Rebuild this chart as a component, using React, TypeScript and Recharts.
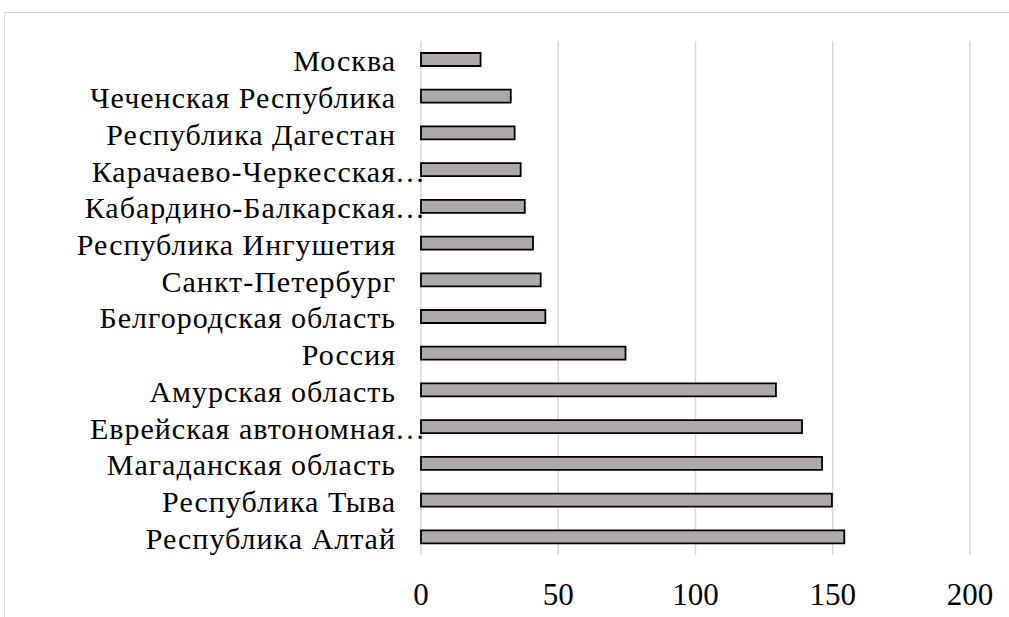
import React from "react"
import { BarChart, Bar, XAxis, YAxis, CartesianGrid } from "recharts"

const categories = [
  "Москва",
  "Чеченская Республика",
  "Республика Дагестан",
  "Карачаево-Черкесская…",
  "Кабардино-Балкарская…",
  "Республика Ингушетия",
  "Санкт-Петербург",
  "Белгородская область",
  "Россия",
  "Амурская область",
  "Еврейская автономная…",
  "Магаданская область",
  "Республика Тыва",
  "Республика Алтай",
]

const values = [21.7, 32.7, 34.1, 36.3, 37.8, 40.8, 43.6, 45.3, 74.5, 129.3, 138.8, 146.1, 149.7, 154.2]

const xTicks = [0, 50, 100, 150, 200]

const data = categories.map((name, i) => ({ name, value: values[i] }))

const FONT = '"Liberation Serif", "Times New Roman", serif'

function CategoryTick({ x, y, payload }: any) {
  const label: string = payload.value
  const cut = label.endsWith("…")
  const base = cut ? label.slice(0, -1) : label
  const right = x - 17
  return (
    <g>
      <text
        x={right}
        y={y}
        dy={12}
        textAnchor="end"
        fontFamily={FONT}
        fontSize={30}
        letterSpacing={1}
        fill="#000"
      >
        {base}
      </text>
      {cut && (
        <text x={right - 1} y={y} dy={12} textAnchor="start" fontFamily={FONT} fontSize={30} fill="#000">
          …
        </text>
      )}
    </g>
  )
}

function ValueTick({ x, y, payload }: any) {
  return (
    <text x={x} y={y} dy={42} textAnchor="middle" fontFamily={FONT} fontSize={31} fill="#000">
      {payload.value}
    </text>
  )
}

export default function App() {
  return (
    <div
      style={{
        position: "fixed",
        left: 0,
        top: 0,
        width: 1009,
        height: 617,
        overflow: "hidden",
        background: "#fff",
      }}
    >
      <div
        style={{
          position: "absolute",
          left: 4,
          top: 12,
          width: 1100,
          height: 700,
          border: "1.5px solid #d9d9d9",
        }}
      />
      <div style={{ position: "absolute", left: 0, top: 0 }}>
        <BarChart
          width={1009}
          height={617}
          data={data}
          layout="vertical"
          margin={{ top: 41, right: 39, bottom: 0, left: 0 }}
          barCategoryGap={0}
        >
          <CartesianGrid horizontal={false} stroke="#d9d9d9" strokeWidth={1.5} />
          <XAxis
            type="number"
            domain={[0, 200]}
            ticks={xTicks}
            axisLine={false}
            tickLine={false}
            height={62}
            tick={<ValueTick />}
            interval={0}
          />
          <YAxis
            type="category"
            dataKey="name"
            width={421}
            axisLine={false}
            tickLine={false}
            tick={<CategoryTick />}
            interval={0}
          />
          <Bar
            dataKey="value"
            fill="#aeaaaa"
            stroke="#000"
            strokeWidth={1.8}
            barSize={13}
            isAnimationActive={false}
          />
        </BarChart>
      </div>
    </div>
  )
}
